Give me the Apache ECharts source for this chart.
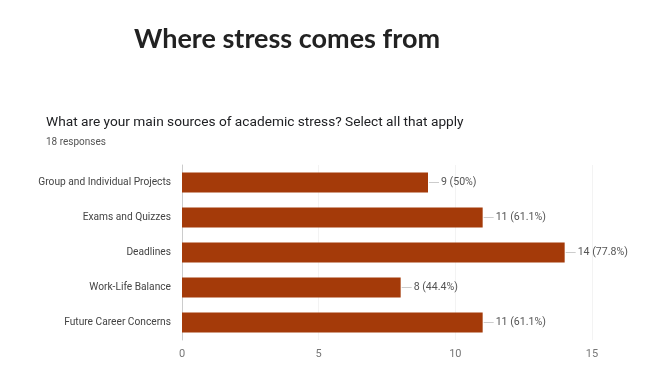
<!DOCTYPE html>
<html><head><meta charset="utf-8">
<script src="https://cdn.jsdelivr.net/npm/echarts@6/dist/echarts.min.js"></script>
<style>html,body{margin:0;padding:0;background:#fff;}#c{width:652px;height:383px;}</style>
</head><body><div id="c"></div>
<script>
const categories = ['Group and Individual Projects','Exams and Quizzes','Deadlines','Work-Life Balance','Future Career Concerns'];
const values = [9, 11, 14, 8, 11];
const percents = ['50%', '61.1%', '77.8%', '44.4%', '61.1%'];
const xTicks = [0, 5, 10, 15];

const chart = echarts.init(document.getElementById('c'));
chart.setOption({
  animation: false,
  backgroundColor: '#fff',
  title: [
    {text: 'Where stress comes from', left: 129, top: 21,
     textStyle: {fontFamily: 'Lato', fontWeight: 'bold', fontSize: 27, color: '#222'}},
    {text: 'What are your main sources of academic stress? Select all that apply', left: 41, top: 111,
     textStyle: {fontFamily: 'Roboto', fontWeight: 'normal', fontSize: 13.7, color: '#202124'}},
    {text: '18 responses', left: 41, top: 132,
     textStyle: {fontFamily: 'Roboto', fontWeight: 'normal', fontSize: 10, color: '#555'}}
  ],
  grid: {left: 182, right: 60, top: 165, bottom: 43},
  xAxis: {
    type: 'value', min: 0, max: 15, interval: 5,
    axisLine: {show: false}, axisTick: {show: false},
    splitLine: {lineStyle: {color: '#f3f3f3'}},
    axisLabel: {color: '#777', fontFamily: 'Roboto', fontSize: 11, margin: 9,
      formatter: v => xTicks.includes(v) ? String(v) : ''}
  },
  yAxis: {
    type: 'category', data: categories, inverse: true,
    axisLine: {show: true, lineStyle: {color: '#ccc'}}, axisTick: {show: false},
    axisLabel: {color: '#444', fontFamily: 'Roboto', fontSize: 10.2, margin: 11}
  },
  series: [{
    type: 'bar', data: values, barWidth: 20,
    itemStyle: {color: '#a43a09'},
    label: {
      show: true, position: 'right', distance: 1,
      formatter: p => '{l|}{v|' + p.value + ' (' + percents[p.dataIndex] + ')}',
      rich: {
        l: {width: 10, height: 1, backgroundColor: '#ccc'},
        v: {color: '#555', fontFamily: 'Roboto', fontSize: 10.6, padding: [0,0,0,2]}
      }
    }
  }]
});
</script></body></html>
